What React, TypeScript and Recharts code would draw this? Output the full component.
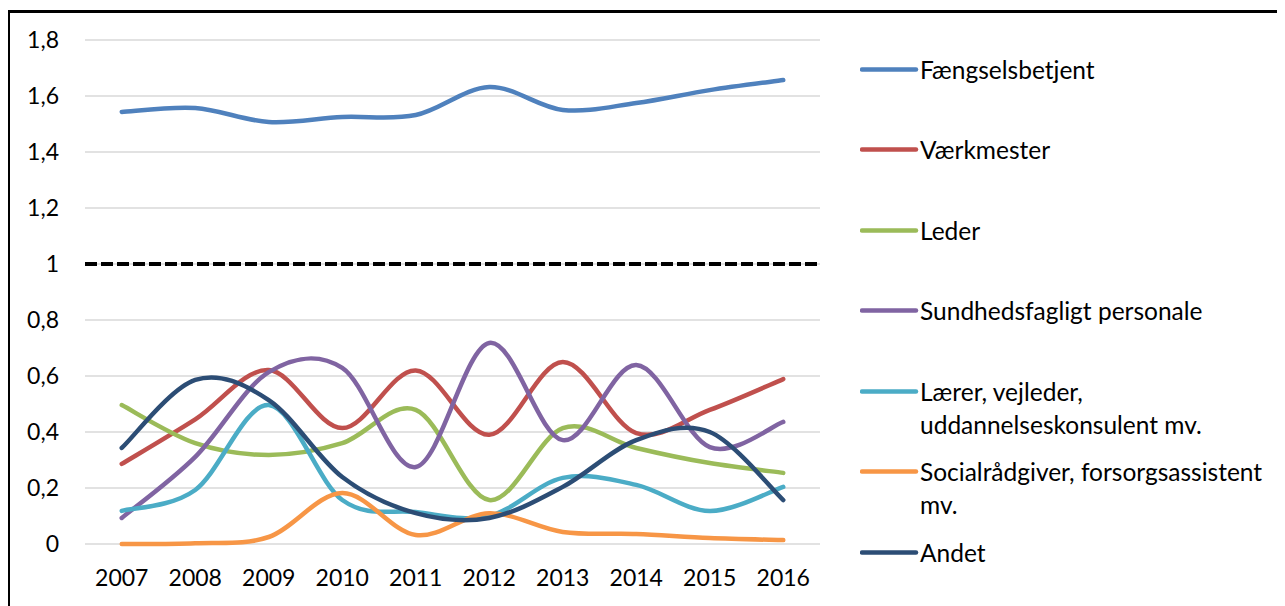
import React from 'react';
import { LineChart, Line, XAxis, YAxis, CartesianGrid, ReferenceLine, Legend } from 'recharts';

const years = ['2007', '2008', '2009', '2010', '2011', '2012', '2013', '2014', '2015', '2016'];

const faengselsbetjent = [1.543, 1.557, 1.507, 1.525, 1.532, 1.632, 1.55, 1.575, 1.621, 1.657];
const vaerkmester = [0.286, 0.445, 0.621, 0.414, 0.62, 0.39, 0.65, 0.396, 0.479, 0.589];
const leder = [0.496, 0.36, 0.318, 0.36, 0.479, 0.157, 0.414, 0.343, 0.289, 0.254];
const sundhed = [0.093, 0.311, 0.614, 0.629, 0.275, 0.718, 0.371, 0.639, 0.346, 0.436];
const laerer = [0.118, 0.193, 0.496, 0.157, 0.114, 0.1, 0.236, 0.211, 0.118, 0.204];
const social = [0.0, 0.003, 0.025, 0.182, 0.032, 0.11, 0.043, 0.036, 0.021, 0.014];
const andet = [0.343, 0.586, 0.514, 0.239, 0.11, 0.093, 0.204, 0.371, 0.4, 0.157];

const yTicks = [0, 0.2, 0.4, 0.6, 0.8, 1, 1.2, 1.4, 1.6, 1.8];

const seriesNames = [
  'Fængselsbetjent',
  'Værkmester',
  'Leder',
  'Sundhedsfagligt personale',
  'Lærer, vejleder,\nuddannelseskonsulent mv.',
  'Socialrådgiver, forsorgsassistent\nmv.',
  'Andet',
];
const seriesKeys = ['s0', 's1', 's2', 's3', 's4', 's5', 's6'];
const seriesColors = ['#4f81bd', '#c0504d', '#9bbb59', '#8064a2', '#4bacc6', '#f79646', '#2c4d75'];
const seriesValues = [faengselsbetjent, vaerkmester, leder, sundhed, laerer, social, andet];

const data = years.map((y, i) => {
  const row: any = { year: y };
  seriesKeys.forEach((k, j) => {
    row[k] = seriesValues[j][i];
  });
  return row;
});

// Excel-like smoothing (Catmull-Rom as cubic Bezier)
const excelCurve = (context: any) => {
  let xs: number[] = [];
  let ys: number[] = [];
  return {
    areaStart() {},
    areaEnd() {},
    lineStart() {
      xs = [];
      ys = [];
    },
    point(x: number, y: number) {
      xs.push(+x);
      ys.push(+y);
    },
    lineEnd() {
      const n = xs.length;
      if (!n) return;
      context.moveTo(xs[0], ys[0]);
      for (let i = 0; i < n - 1; i++) {
        const a = Math.max(i - 1, 0);
        const d = Math.min(i + 2, n - 1);
        const x0 = xs[a], y0 = ys[a];
        const x1 = xs[i], y1 = ys[i];
        const x2 = xs[i + 1], y2 = ys[i + 1];
        const x3 = xs[d], y3 = ys[d];
        context.bezierCurveTo(
          x1 + (x2 - x0) / 6,
          y1 + (y2 - y0) / 6,
          x2 - (x3 - x1) / 6,
          y2 - (y3 - y1) / 6,
          x2,
          y2
        );
      }
    },
  };
};

const FONT = 'Lato, "Open Sans", sans-serif';

const fmt = (v: number) => String(Math.round(v * 10) / 10).replace('.', ',');

const renderLegend = () => (
  <div style={{ fontFamily: FONT, fontSize: 24.5, color: '#000' }}>
    {seriesNames.map((name, i) => (
      <div key={i} style={{ height: 80.5, display: 'flex', alignItems: 'flex-start' }}>
        <svg width={60} height={33} style={{ flex: '0 0 auto' }}>
          <line x1={2} y1={16.5} x2={56} y2={16.5} stroke={seriesColors[i]} strokeWidth={4.5} strokeLinecap="round" />
        </svg>
        <div style={{ lineHeight: '33px', whiteSpace: 'nowrap' }}>
          {name.split('\n').map((ln, k) => (
            <div key={k}>{ln}</div>
          ))}
        </div>
      </div>
    ))}
  </div>
);

export default function App() {
  return (
    <div
      style={{
        position: 'relative',
        width: 1277,
        height: 596,
        marginTop: 2,
        borderTop: '3px solid #000',
        borderLeft: '2px solid #000',
        boxSizing: 'border-box',
        background: '#fff',
        overflow: 'hidden',
      }}
    >
      <LineChart
        width={1275}
        height={593}
        data={data}
        margin={{ top: 27, right: 465, bottom: 32, left: 15 }}
        style={{ fontFamily: FONT }}
      >
        <CartesianGrid vertical={false} stroke="#d9d9d9" strokeWidth={1.5} />
        <XAxis
          dataKey="year"
          axisLine={false}
          tickLine={false}
          tickSize={0}
          tickMargin={26}
          height={30}
          padding={{ left: 36.75, right: 36.75 }}
          tick={{ fill: '#000', fontSize: 23 }}
          interval={0}
        />
        <YAxis
          domain={[0, 1.8]}
          ticks={yTicks}
          axisLine={false}
          tickLine={false}
          tickSize={0}
          tickMargin={26}
          width={60}
          tickFormatter={fmt}
          tick={{ fill: '#000', fontSize: 23 }}
          interval={0}
        />
        <ReferenceLine y={1} stroke="#000" strokeWidth={4} strokeDasharray="12 4" />
        <Legend
          layout="vertical"
          align="center"
          verticalAlign="middle"
          content={renderLegend}
          wrapperStyle={{ left: 850, top: 39.5, width: 425 }}
        />
        {seriesKeys.map((k, i) => (
          <Line
            key={k}
            dataKey={k}
            name={seriesNames[i]}
            stroke={seriesColors[i]}
            strokeWidth={4.5}
            strokeLinecap="round"
            dot={false}
            activeDot={false}
            type={excelCurve as any}
            isAnimationActive={false}
          />
        ))}
      </LineChart>
    </div>
  );
}
